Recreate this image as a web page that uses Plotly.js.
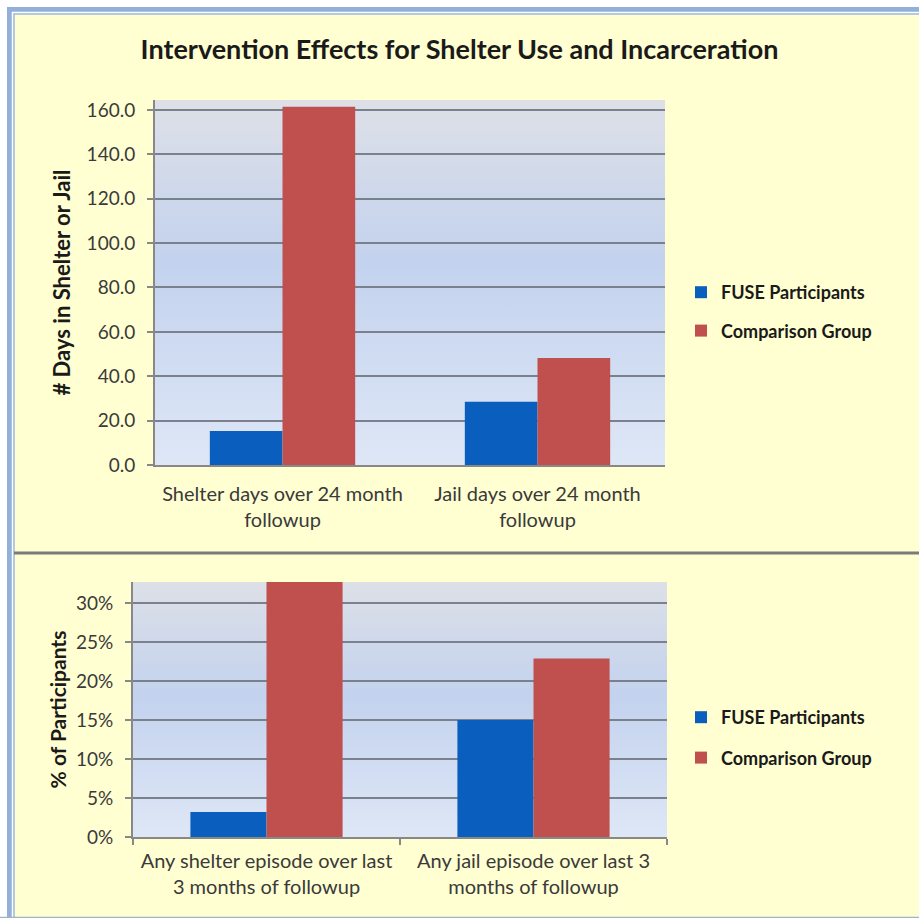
<!DOCTYPE html>
<html>
<head>
<meta charset="utf-8">
<script src="https://cdn.plot.ly/plotly-3.0.1.min.js"></script>
<style>html,body{margin:0;padding:0;background:#fff;} #chart{width:919px;height:918px;}</style>
</head>
<body>
<div id="chart"></div>
<script>
// ---- data ----
var topCategories = ["Shelter days over 24 month<br>followup", "Jail days over 24 month<br>followup"];
var topFuse = [15.3, 28.5];
var topComparison = [161.5, 48.2];
var topTickVals = [0, 20, 40, 60, 80, 100, 120, 140, 160];

var bottomCategories = ["Any shelter episode over last<br>3 months of followup", "Any jail episode over last 3<br>months of followup"];
var bottomFuse = [0.032, 0.15];
var bottomComparison = [0.33, 0.229];
var bottomTickVals = [0, 0.05, 0.10, 0.15, 0.20, 0.25, 0.30];

var seriesNames = ["FUSE Participants", "Comparison Group"];
var seriesColors = ["#0a5fbe", "#c0504d"];

var chartTitle = "Intervention Effects for Shelter Use and Incarceration";
var topYTitle = "# Days in Shelter or Jail";
var bottomYTitle = "% of Participants";

// ---- geometry helpers ----
var W = 919, H = 918;
function px(x){ return x / W; }
function py(y){ return 1 - y / H; }

var FONT = "Lato, 'Open Sans', sans-serif";

var traces = [
  {type: "bar", x: topCategories, y: topFuse, name: seriesNames[0], marker: {color: seriesColors[0]},
   xaxis: "x", yaxis: "y", legend: "legend", legendgroup: "a"},
  {type: "bar", x: topCategories, y: topComparison, name: seriesNames[1], marker: {color: seriesColors[1]},
   xaxis: "x", yaxis: "y", legend: "legend", legendgroup: "b"},
  {type: "bar", x: bottomCategories, y: bottomFuse, name: seriesNames[0], marker: {color: seriesColors[0]},
   xaxis: "x2", yaxis: "y2", legend: "legend2", legendgroup: "c"},
  {type: "bar", x: bottomCategories, y: bottomComparison, name: seriesNames[1], marker: {color: seriesColors[1]},
   xaxis: "x2", yaxis: "y2", legend: "legend2", legendgroup: "d"}
];

function gradientSrc(){
  var svg = "<svg xmlns='http://www.w3.org/2000/svg' width='100' height='100' preserveAspectRatio='none'>" +
    "<defs><linearGradient id='g' x1='0' y1='0' x2='0' y2='1'>" +
    "<stop offset='0' stop-color='#dde0e7'/>" +
    "<stop offset='0.45' stop-color='#c3d2ee'/>" +
    "<stop offset='1' stop-color='#dee7f6'/>" +
    "</linearGradient></defs><rect width='100' height='100' fill='url(#g)'/></svg>";
  return "data:image/svg+xml;charset=utf-8," + encodeURIComponent(svg);
}

var topPlot = {x0: 155, x1: 665, y0: 100, y1: 465};
var botPlot = {x0: 133, x1: 667, y0: 582, y1: 837};

var gridColor = "#7b818c";
var axisColor = "#888888";
var yTickFont = {family: FONT, size: 19, color: "#3a3a3a"};
var xTickFont = {family: FONT, size: 20, color: "#3a3a3a"};

var layout = {
  width: W, height: H,
  margin: {l: 0, r: 0, t: 0, b: 0},
  paper_bgcolor: "#ffffd2",
  plot_bgcolor: "rgba(0,0,0,0)",
  barmode: "group",
  bargap: 0.43,
  bargroupgap: 0,
  title: {text: "<b>" + chartTitle + "</b>", x: 0.5, xanchor: "center", y: py(50), yanchor: "middle",
          font: {family: FONT, size: 27, color: "#1a1a1a"}},
  xaxis: {domain: [px(topPlot.x0), px(topPlot.x1)], anchor: "y", type: "category",
          showline: true, linecolor: axisColor, linewidth: 2, ticks: "", showgrid: false,
          tickfont: xTickFont, ticklabelstandoff: 10, fixedrange: true},
  yaxis: {domain: [py(topPlot.y1), py(topPlot.y0)], anchor: "x", range: [0, 164.5],
          tickvals: topTickVals, tickformat: ".1f", ticks: "outside", ticklen: 6, tickcolor: axisColor, tickwidth: 2,
          showline: true, linecolor: axisColor, linewidth: 2,
          showgrid: true, gridcolor: gridColor, gridwidth: 2, zeroline: false,
          tickfont: yTickFont, ticklabelstandoff: 8,
          title: {text: "<b>" + topYTitle + "</b>", font: {family: FONT, size: 22, color: "#1a1a1a"}, standoff: 10},
          fixedrange: true},
  xaxis2: {domain: [px(botPlot.x0), px(botPlot.x1)], anchor: "y2", type: "category",
          showline: true, linecolor: axisColor, linewidth: 2, ticks: "outside", tickson: "boundaries",
          ticklen: 6, tickcolor: axisColor, tickwidth: 2, showgrid: false,
          tickfont: xTickFont, ticklabelstandoff: 5, fixedrange: true},
  yaxis2: {domain: [py(botPlot.y1), py(botPlot.y0)], anchor: "x2", range: [0, 0.327],
          tickvals: bottomTickVals, tickformat: ".0%", ticks: "outside", ticklen: 6, tickcolor: axisColor, tickwidth: 2,
          showline: true, linecolor: axisColor, linewidth: 2,
          showgrid: true, gridcolor: gridColor, gridwidth: 2, zeroline: false,
          tickfont: yTickFont, ticklabelstandoff: 8,
          title: {text: "<b>" + bottomYTitle + "</b>", font: {family: FONT, size: 21, color: "#1a1a1a"}, standoff: 4},
          fixedrange: true},
  legend: {x: px(681), xanchor: "left", y: py(274), yanchor: "top", bgcolor: "rgba(0,0,0,0)",
           font: {family: FONT, size: 18, color: "#1a1a1a", weight: "bold"}, traceorder: "grouped", tracegroupgap: 12},
  legend2: {x: px(681), xanchor: "left", y: py(699), yanchor: "top", bgcolor: "rgba(0,0,0,0)",
           font: {family: FONT, size: 18, color: "#1a1a1a", weight: "bold"}, traceorder: "grouped", tracegroupgap: 14},
  images: [
    {source: gradientSrc(), xref: "paper", yref: "paper", x: px(topPlot.x0), y: py(topPlot.y0),
     sizex: px(topPlot.x1) - px(topPlot.x0), sizey: py(topPlot.y0) - py(topPlot.y1),
     xanchor: "left", yanchor: "top", sizing: "stretch", layer: "below"},
    {source: gradientSrc(), xref: "paper", yref: "paper", x: px(botPlot.x0), y: py(botPlot.y0),
     sizex: px(botPlot.x1) - px(botPlot.x0), sizey: py(botPlot.y0) - py(botPlot.y1),
     xanchor: "left", yanchor: "top", sizing: "stretch", layer: "below"}
  ],
  shapes: [
    {type: "rect", xref: "paper", yref: "paper", x0: 0, x1: 1, y0: py(7), y1: 1, fillcolor: "#ffffff", line: {width: 0}, layer: "above"},
    {type: "rect", xref: "paper", yref: "paper", x0: 0, x1: px(7), y0: 0, y1: 1, fillcolor: "#ffffff", line: {width: 0}, layer: "above"},
    {type: "line", xref: "paper", yref: "paper", x0: px(7), x1: 1, y0: py(9.5), y1: py(9.5), line: {color: "#93b0d8", width: 5}, layer: "above"},
    {type: "line", xref: "paper", yref: "paper", x0: px(9.5), x1: px(9.5), y0: 0, y1: py(7), line: {color: "#93b0d8", width: 5}, layer: "above"},
    {type: "line", xref: "paper", yref: "paper", x0: px(12), x1: 1, y0: py(12.5), y1: py(12.5), line: {color: "#ffffff", width: 1.5}, layer: "above"},
    {type: "line", xref: "paper", yref: "paper", x0: px(12.5), x1: px(12.5), y0: 0, y1: py(12), line: {color: "#ffffff", width: 1.5}, layer: "above"},
    {type: "line", xref: "paper", yref: "paper", x0: px(13.5), x1: 1, y0: py(14), y1: py(14), line: {color: "#9db9e2", width: 1.5}, layer: "above"},
    {type: "line", xref: "paper", yref: "paper", x0: px(14), x1: px(14), y0: 0, y1: py(13.5), line: {color: "#9db9e2", width: 1.5}, layer: "above"},
    {type: "line", xref: "paper", yref: "paper", x0: 0, x1: 1, y0: py(917.5), y1: py(917.5), line: {color: "#a3b3c3", width: 1.5}, layer: "above"},
    {type: "line", xref: "paper", yref: "paper", x0: px(14), x1: 1, y0: py(553), y1: py(553), line: {color: "#7b7b7b", width: 3}, layer: "above"}
  ],
  showlegend: true
};

Plotly.newPlot("chart", traces, layout, {displayModeBar: false, staticPlot: true});
</script>
</body>
</html>
